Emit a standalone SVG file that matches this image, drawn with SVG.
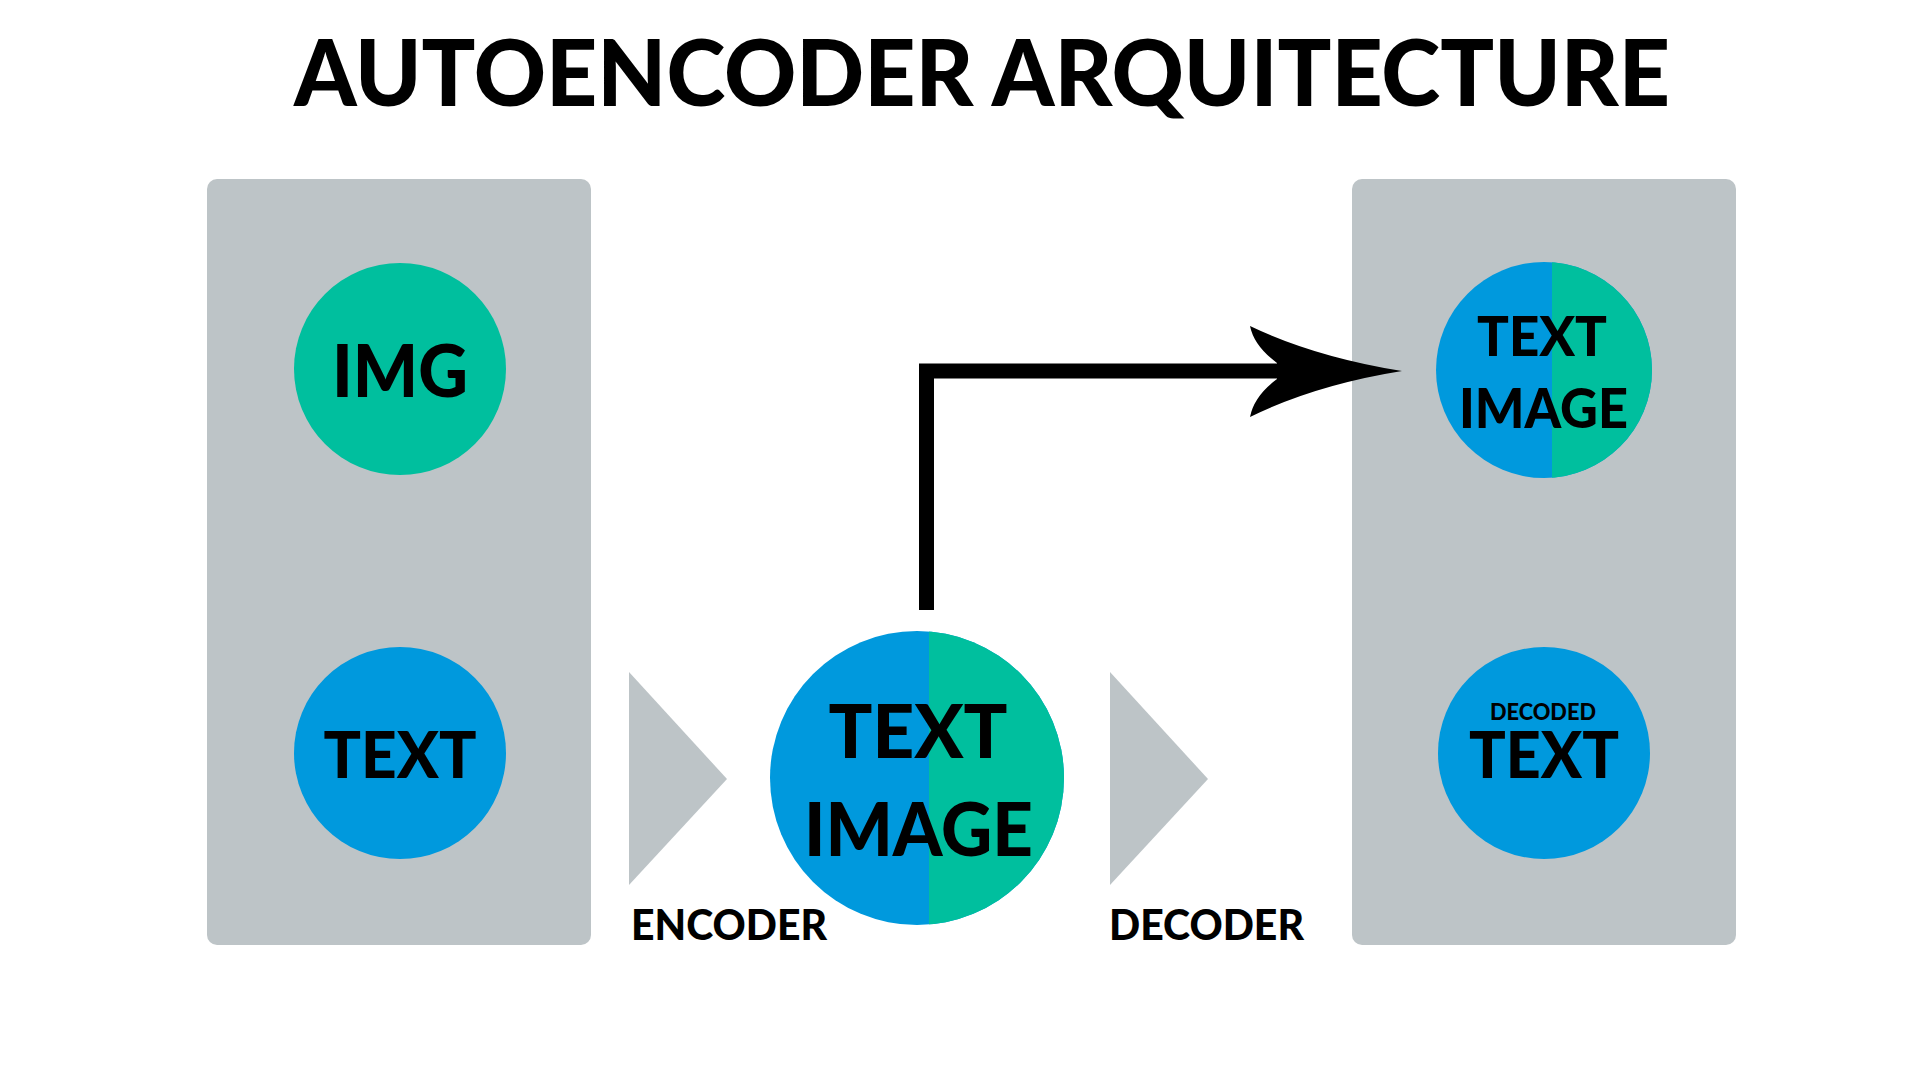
<svg xmlns="http://www.w3.org/2000/svg" width="1920" height="1080" viewBox="0 0 1920 1080">
<style>
.panel{fill:#BDC4C7}
.blue{fill:#0099DD}
.green{fill:#00BF9E}
.tri{fill:#BDC4C7}
text{font-family:Lato,"Liberation Sans",sans-serif;font-weight:900;fill:#000}
.c{text-anchor:middle}
</style>
<defs>
<clipPath id="cpMid"><circle cx="917" cy="778" r="147"/></clipPath>
<clipPath id="cpRight"><circle cx="1544" cy="370" r="108"/></clipPath>
</defs>
<rect width="1920" height="1080" fill="#fff"/>
<text id="title" class="c" x="982" y="106" font-size="92" textLength="1376" lengthAdjust="spacingAndGlyphs">AUTOENCODER ARQUITECTURE</text>

<g id="input-panel">
<rect class="panel" x="207" y="179" width="384" height="766" rx="10"/>
</g>
<g id="img-node">
<circle class="green" cx="400" cy="369" r="106"/>
<text class="c" x="400" y="397" font-size="72" textLength="136" lengthAdjust="spacingAndGlyphs">IMG</text>
</g>
<g id="text-node">
<circle class="blue" cx="400" cy="753" r="106"/>
<text class="c" x="400" y="778" font-size="64" textLength="153" lengthAdjust="spacingAndGlyphs">TEXT</text>
</g>

<g id="encoder">
<polygon class="tri" points="629,672 727,779 629,885"/>
<text x="631" y="940" font-size="42" textLength="196" lengthAdjust="spacingAndGlyphs">ENCODER</text>
</g>

<g id="latent-node">
<circle class="blue" cx="917" cy="778" r="147"/>
<rect class="green" x="929" y="620" width="200" height="320" clip-path="url(#cpMid)"/>
<text class="c" x="918" y="758" font-size="75" textLength="179" lengthAdjust="spacingAndGlyphs">TEXT</text>
<text class="c" x="918.5" y="856" font-size="75" textLength="229" lengthAdjust="spacingAndGlyphs">IMAGE</text>
</g>

<g id="decoder">
<polygon class="tri" points="1110,672 1208,779 1110,885"/>
<text x="1109" y="940" font-size="42" textLength="195" lengthAdjust="spacingAndGlyphs">DECODER</text>
</g>

<g id="output-panel">
<rect class="panel" x="1352" y="179" width="384" height="766" rx="10"/>
</g>
<g id="output-textimage-node">
<circle class="blue" cx="1544" cy="370" r="108"/>
<rect class="green" x="1552" y="250" width="120" height="240" clip-path="url(#cpRight)"/>
<text class="c" x="1542" y="356" font-size="56" textLength="130" lengthAdjust="spacingAndGlyphs">TEXT</text>
<text class="c" x="1543.5" y="428" font-size="56" textLength="169" lengthAdjust="spacingAndGlyphs">IMAGE</text>
</g>
<g id="decoded-text-node">
<circle class="blue" cx="1544" cy="753" r="106"/>
<text class="c" x="1543" y="720" font-size="23" textLength="106" lengthAdjust="spacingAndGlyphs">DECODED</text>
<text class="c" x="1544" y="778" font-size="64" textLength="150" lengthAdjust="spacingAndGlyphs">TEXT</text>
</g>

<g id="connectors">
<polyline points="926.5,610 926.5,371 1285,371" fill="none" stroke="#000" stroke-width="15" stroke-linejoin="miter"/>
<path d="M1402,371 Q1315,357 1250,326 Q1254,346 1277,363 L1277,379 Q1254,396 1250,417 Q1315,385 1402,371 Z" fill="#000"/>
</g>
</svg>
